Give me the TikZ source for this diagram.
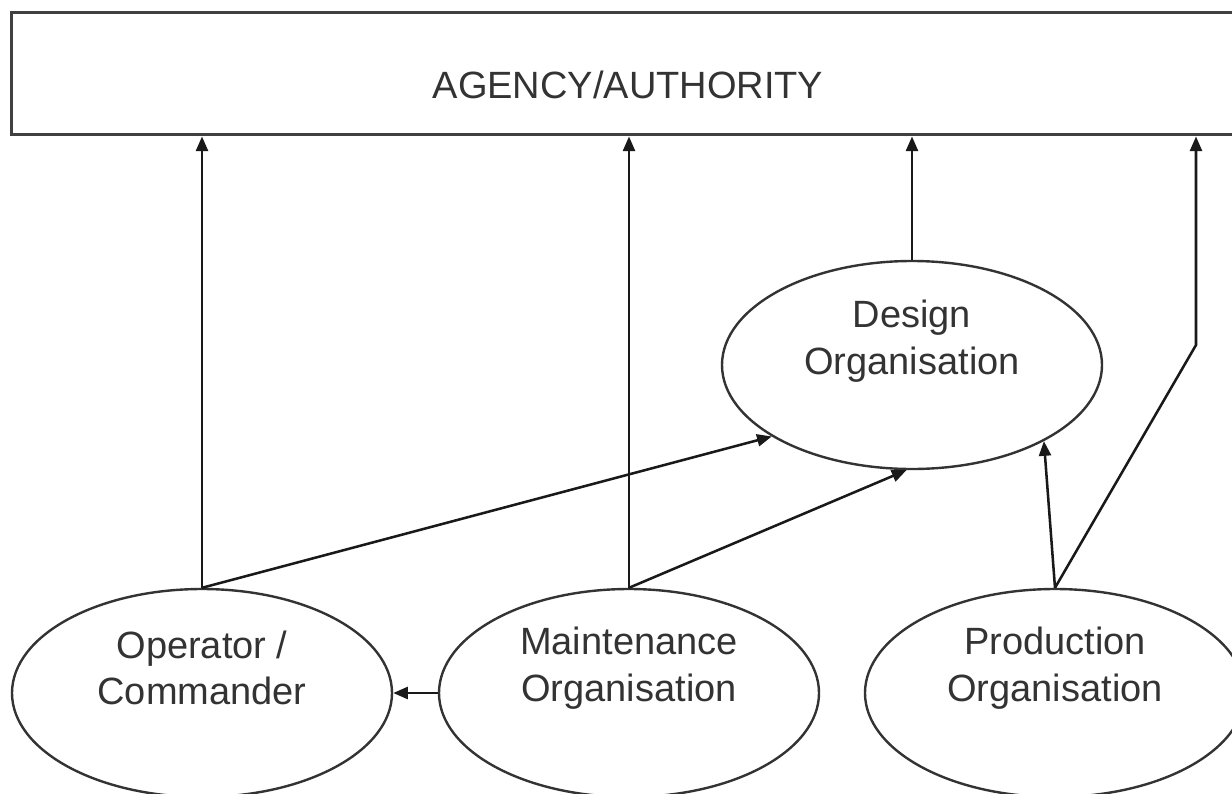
\documentclass[tikz,border=0pt]{standalone}
\usepackage{fontspec}
\setmainfont{Liberation Sans}
\usetikzlibrary{arrows.meta,shapes.geometric}

\begin{document}
\begin{tikzpicture}[x=0.75pt,y=0.75pt,yscale=-1,xscale=1,
  org/.style={draw=black!80, line width=1.8pt, ellipse, minimum width=285pt, minimum height=156pt, inner sep=0pt},
  orgtext/.style={align=center, font=\fontsize{28.5}{35}\selectfont, text=black!80, inner sep=0.75pt},
  link/.style={draw=black!90, line width=1.9pt, -{Triangle[length=11pt,width=9pt]}}]
%set diagram size: 1232 x 793
\path [use as bounding box] (0,0) rectangle (1232,793);

%Shape: Rectangle [agency]
\node [draw=black!75, line width=2.4pt, minimum width=925pt, minimum height=92pt, inner sep=0pt] (agency) at (628.5,73.5) {};
%Shape: Ellipses
\node [org] (design) at (912,365) {};
\node [org] (oper) at (202,693) {};
\node [org] (maint) at (629,693) {};
\node [org] (prod) at (1055,693) {};
\coordinate (bend) at (1196,345);

%Straight Lines up to the agency
\draw [link] (oper.north) -- (oper.north |- agency.south);
\draw [link] (maint.north) -- (maint.north |- agency.south);
\draw [link] (design.north) -- (design.north |- agency.south);
\draw [link] (prod.north) -- (bend) -- (bend |- agency.south);
%Straight Lines to the design organisation
\draw [link] (oper.north) -- (design.207);
\draw [link] (maint.north) -- (design.267);
\draw [link] (prod.north) -- (design.330);
%Straight Lines between the organisations
\draw [link] (maint.west) -- (oper.east);

% Text Node
\node [orgtext] (agencytxt) at (628,85) {AGENCY/AUTHORITY};
% Text Node
\node [orgtext] (designtxt) at (912,341) {Design\\Organisation};
% Text Node
\node [orgtext] (opertxt) at (202,668) {Operator /\\Commander};
% Text Node
\node [orgtext] (mainttxt) at (629,668) {Maintenance\\Organisation};
% Text Node
\node [orgtext] (prodtxt) at (1055,668) {Production\\Organisation};

\end{tikzpicture}
\end{document}
